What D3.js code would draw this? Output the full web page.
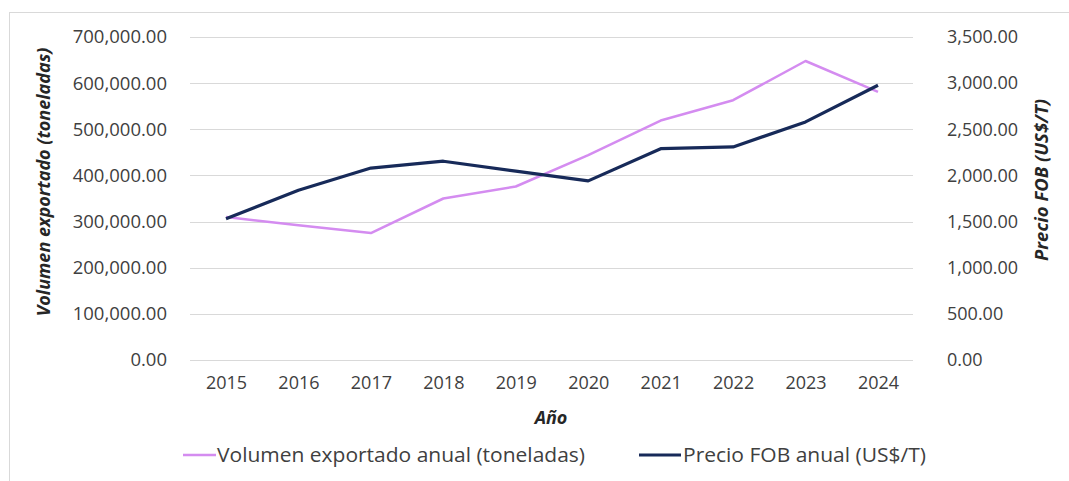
<!DOCTYPE html>
<html><head><meta charset="utf-8">
<script src="https://cdn.jsdelivr.net/npm/d3@7"></script>
<style>body{margin:0;background:#fff;}svg{display:block;}</style>
</head><body>
<svg id="chart" width="1069" height="481"></svg>
<script>
const years = ["2015","2016","2017","2018","2019","2020","2021","2022","2023","2024"];
const volumen = [310000, 292000, 275000, 350000, 376000, 444000, 519000, 563000, 648000, 581000];
const precio = [1530, 1840, 2080, 2154, 2046, 1941, 2290, 2309, 2580, 2977];
const leftTicks = [0,100000,200000,300000,400000,500000,600000,700000];
const rightTicks = [0,500,1000,1500,2000,2500,3000,3500];
const seriesNames = ["Volumen exportado anual (toneladas)", "Precio FOB anual (US$/T)"];
const colors = ["#d48cf0", "#172a59"];

const svg = d3.select("#chart");
const font = "'Open Sans', 'Noto Sans', sans-serif";
const m = {l:190, r:913, t:37, b:360};

// border
svg.append("rect").attr("x",9.5).attr("y",12.5).attr("width",1100).attr("height",500)
  .attr("fill","none").attr("stroke","#d9d9d9");

const x = d3.scalePoint().domain(years).range([226, 878]);
const yL = d3.scaleLinear().domain([0,700000]).range([m.b, m.t]);
const yR = d3.scaleLinear().domain([0,3500]).range([m.b, m.t]);
const fmt = d3.format(",.2f");

// gridlines
svg.append("g").selectAll("line").data(leftTicks).join("line")
  .attr("x1",m.l).attr("x2",m.r)
  .attr("y1",d=>Math.round(yL(d))+0.5).attr("y2",d=>Math.round(yL(d))+0.5)
  .attr("stroke","#d9d9d9").attr("stroke-width",1);

// left axis
const gl = svg.append("g").attr("transform",`translate(167,0)`)
  .call(d3.axisLeft(yL).tickValues(leftTicks).tickFormat(fmt).tickSize(0).tickPadding(0));
gl.select(".domain").remove();
gl.selectAll("text").attr("font-family",font).attr("font-size",18.5).attr("fill","#404040");

// right axis
const gr = svg.append("g").attr("transform",`translate(947,0)`)
  .call(d3.axisRight(yR).tickValues(rightTicks).tickFormat(fmt).tickSize(0).tickPadding(0));
gr.select(".domain").remove();
gr.selectAll("text").attr("font-family",font).attr("font-size",18).attr("fill","#404040");

// x axis
const gx = svg.append("g").attr("transform",`translate(0,${m.b+8})`)
  .call(d3.axisBottom(x).tickSize(0).tickPadding(8));
gx.select(".domain").remove();
gx.selectAll("text").attr("font-family",font).attr("font-size",18).attr("fill","#404040");

// axis titles
svg.append("text").attr("transform","translate(50,182) rotate(-90)").attr("text-anchor","middle")
  .attr("font-family",font).attr("font-size",18).attr("font-weight","bold").attr("font-style","italic")
  .attr("fill","#262626").text("Volumen exportado (toneladas)");
svg.append("text").attr("transform","translate(1048,180) rotate(-90)").attr("text-anchor","middle")
  .attr("font-family",font).attr("font-size",18.5).attr("font-weight","bold").attr("font-style","italic")
  .attr("fill","#262626").text("Precio FOB (US$/T)");
svg.append("text").attr("x",551).attr("y",424).attr("text-anchor","middle")
  .attr("font-family",font).attr("font-size",18).attr("font-weight","bold").attr("font-style","italic")
  .attr("fill","#262626").text("Año");

// lines
const lineL = d3.line().x((d,i)=>x(years[i])).y(d=>yL(d));
const lineR = d3.line().x((d,i)=>x(years[i])).y(d=>yR(d));
svg.append("path").datum(volumen).attr("d",lineL).attr("fill","none")
  .attr("stroke",colors[0]).attr("stroke-width",2.5).attr("stroke-linejoin","round");
svg.append("path").datum(precio).attr("d",lineR).attr("fill","none")
  .attr("stroke",colors[1]).attr("stroke-width",3.2).attr("stroke-linejoin","round");

// legend
const leg = [{x1:183,x2:216,tx:217,w:368},{x1:639,x2:681,tx:683,w:243}];
leg.forEach((l,i)=>{
  svg.append("line").attr("x1",l.x1).attr("x2",l.x2).attr("y1",455).attr("y2",455)
    .attr("stroke",colors[i]).attr("stroke-width",i?3.2:2.5);
  svg.append("text").attr("x",l.tx).attr("y",462).attr("font-family",font).attr("font-size",20.5)
    .attr("textLength",l.w).attr("lengthAdjust","spacingAndGlyphs")
    .attr("fill","#404040").text(seriesNames[i]);
});
</script>
</body></html>
